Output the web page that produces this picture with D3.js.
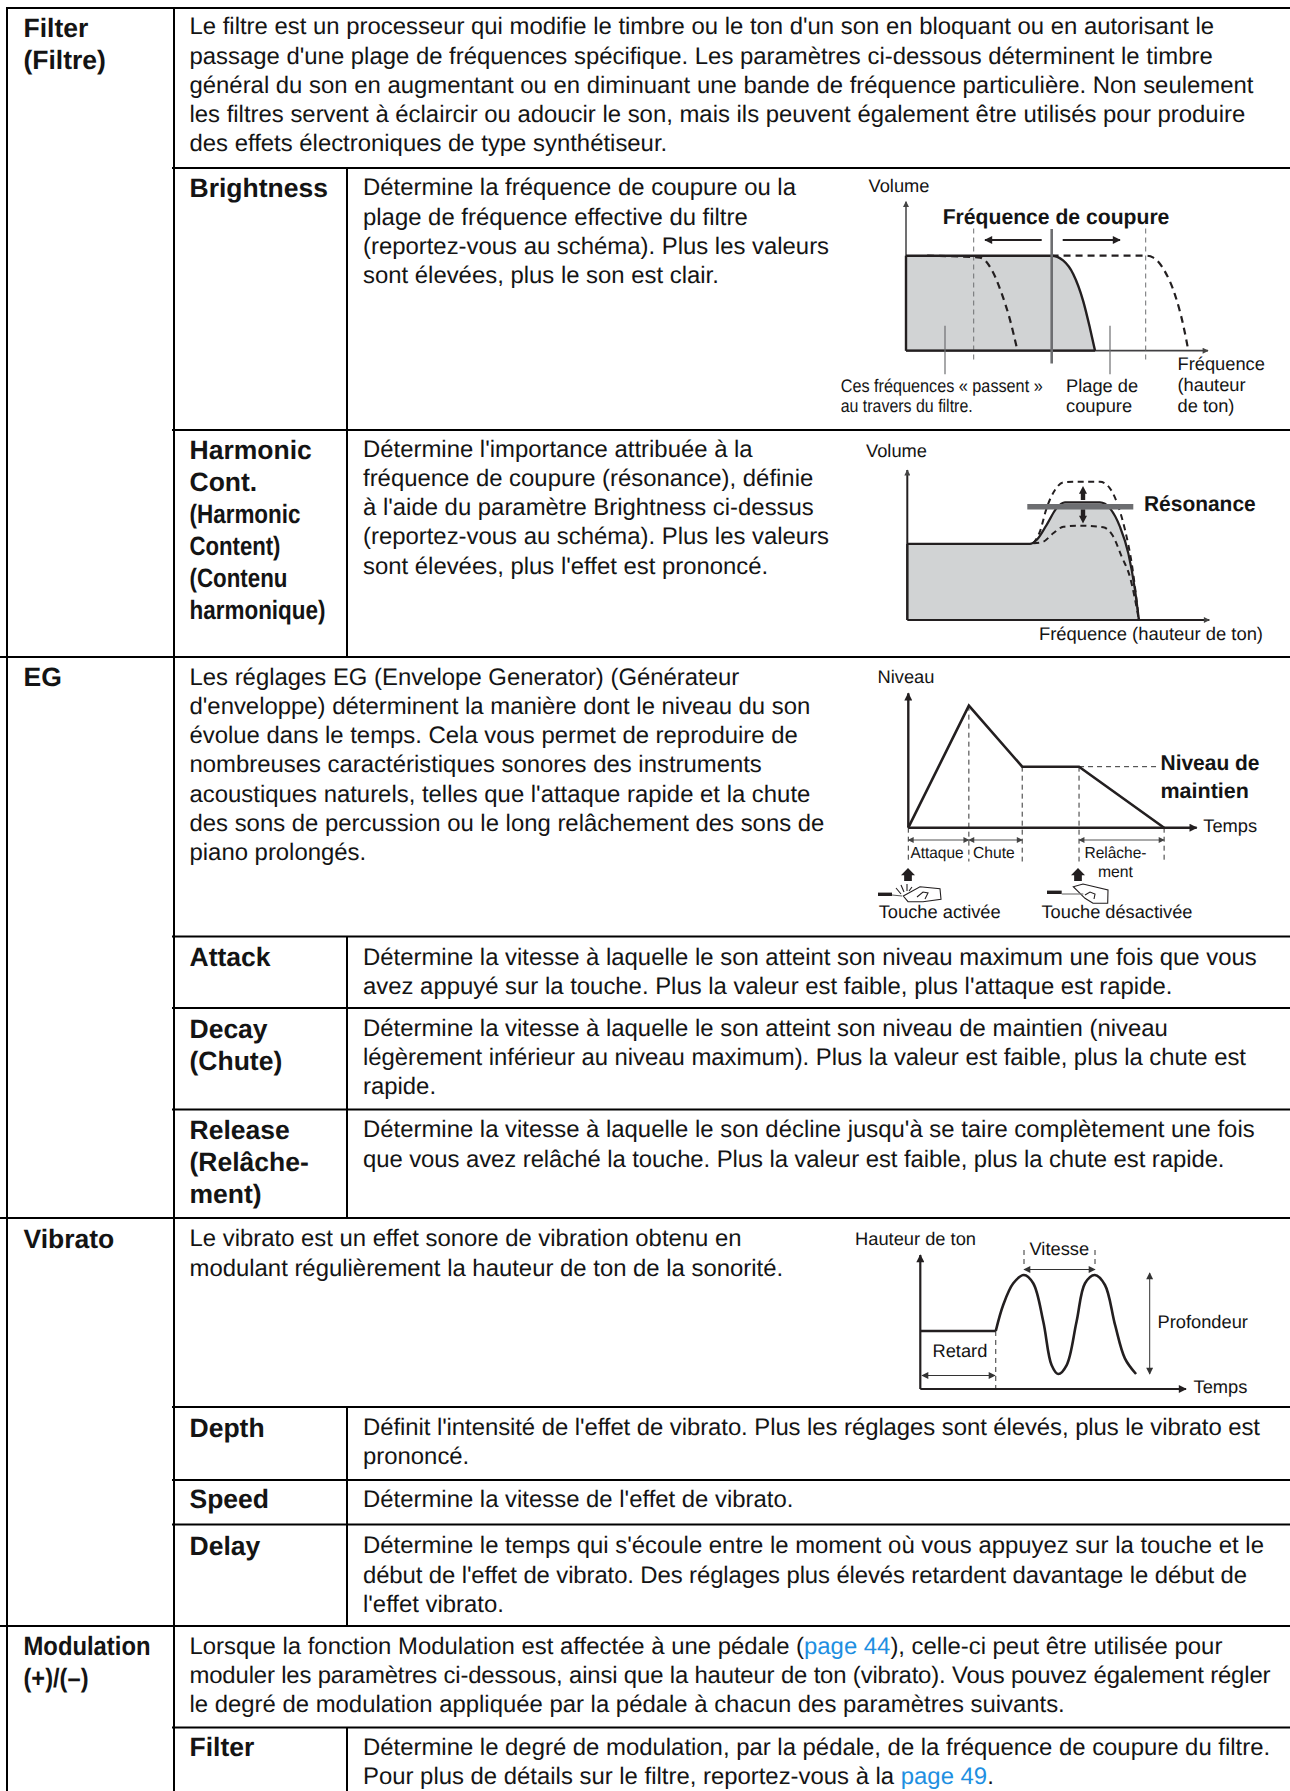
<!DOCTYPE html>
<html lang="fr"><head><meta charset="utf-8">
<style>html,body{margin:0;padding:0;background:#fff}svg{display:block}text{font-family:"Liberation Sans",Arial,sans-serif;fill:#141414;text-rendering:geometricPrecision}</style>
<script src="https://cdn.jsdelivr.net/npm/d3@7/dist/d3.min.js"></script></head><body><div id="c"></div>
<script>
// ---------- table content ----------
const filterIntro=["Le filtre est un processeur qui modifie le timbre ou le ton d'un son en bloquant ou en autorisant le","passage d'une plage de fréquences spécifique. Les paramètres ci-dessous déterminent le timbre","général du son en augmentant ou en diminuant une bande de fréquence particulière. Non seulement","les filtres servent à éclaircir ou adoucir le son, mais ils peuvent également être utilisés pour produire","des effets électroniques de type synthétiseur."];
const brightnessText=["Détermine la fréquence de coupure ou la","plage de fréquence effective du filtre","(reportez-vous au schéma). Plus les valeurs","sont élevées, plus le son est clair."];
const harmonicText=["Détermine l'importance attribuée à la","fréquence de coupure (résonance), définie","à l'aide du paramètre Brightness ci-dessus","(reportez-vous au schéma). Plus les valeurs","sont élevées, plus l'effet est prononcé."];
const egIntro=["Les réglages EG (Envelope Generator) (Générateur","d'enveloppe) déterminent la manière dont le niveau du son","évolue dans le temps. Cela vous permet de reproduire de","nombreuses caractéristiques sonores des instruments","acoustiques naturels, telles que l'attaque rapide et la chute","des sons de percussion ou le long relâchement des sons de","piano prolongés."];
const attackText=["Détermine la vitesse à laquelle le son atteint son niveau maximum une fois que vous","avez appuyé sur la touche. Plus la valeur est faible, plus l'attaque est rapide."];
const decayText=["Détermine la vitesse à laquelle le son atteint son niveau de maintien (niveau","légèrement inférieur au niveau maximum). Plus la valeur est faible, plus la chute est","rapide."];
const releaseText=["Détermine la vitesse à laquelle le son décline jusqu'à se taire complètement une fois","que vous avez relâché la touche. Plus la valeur est faible, plus la chute est rapide."];
const vibratoIntro=["Le vibrato est un effet sonore de vibration obtenu en","modulant régulièrement la hauteur de ton de la sonorité."];
const depthText=["Définit l'intensité de l'effet de vibrato. Plus les réglages sont élevés, plus le vibrato est","prononcé."];
const speedText=["Détermine la vitesse de l'effet de vibrato."];
const delayText=["Détermine le temps qui s'écoule entre le moment où vous appuyez sur la touche et le","début de l'effet de vibrato. Des réglages plus élevés retardent davantage le début de","l'effet vibrato."];
const modulationIntro=[["Lorsque la fonction Modulation est affectée à une pédale (",["page 44"],"), celle-ci peut être utilisée pour"],"moduler les paramètres ci-dessous, ainsi que la hauteur de ton (vibrato). Vous pouvez également régler","le degré de modulation appliquée par la pédale à chacun des paramètres suivants."];
const modFilterText=["Détermine le degré de modulation, par la pédale, de la fréquence de coupure du filtre.",["Pour plus de détails sur le filtre, reportez-vous à la ",["page 49"],"."]];
// lines set tighter than the natural width in the original
const fittedLines=new Map([[decayText[1],883],[releaseText[1],861.5],[depthText[0],897],[delayText[1],884],[modulationIntro[1],1081]]);

// ---------- diagram values (percent of each diagram's axes) ----------
const brightSolid=[[0,100],[48.2,100],[52,95],[55.4,80.5],[58.7,52],[60.9,24],[62.6,0]];
const brightLeft=[[7,100],[24.5,98],[28.4,85],[31.7,60],[34.4,33],[36.9,0]];
const brightRight=[[48.2,100],[79.7,100],[81.9,98],[85.8,83],[89.1,58.6],[91.8,27],[93.5,0]];
const resoSolid=[[0,50.7],[40.6,50.7],[42.8,53.3],[46.1,63.3],[49.4,74.4],[52.2,78.4],[63.8,78.4],[67.1,74.4],[70.4,62.2],[73.2,44.4],[75.4,20],[76.7,0]];
const resoUpper=[[41.7,51.1],[43.9,58.9],[46.1,74.4],[48.9,86.7],[51.7,91.8],[56.1,92.2],[63.8,92.2],[67.1,87.8],[69.9,75.6],[72.1,60],[74.3,37.8],[76.7,0]];
const resoLower=[[41.7,51.1],[45,52.2],[48.3,57.8],[51.7,62.2],[56.1,62.9],[64.9,61.8],[68.2,55.6],[71,42.2],[73.7,28.9],[76.7,0]];
const envelope=[[0,0],[21,90.8],[39.5,45.4],[59.2,45.4],[88.7,0]];
const vibDelay=[[0,43.3],[28.4,43.3]];
const vibWave=[[28.4,43.3],[31.2,62.7],[35,78.9],[39,85.1],[42.5,78.9],[46.3,50.2],[49.4,17.9],[51.9,11.2],[55.1,17.9],[58.8,50.2],[62,78.9],[65.7,85.1],[69.5,77.6],[73.3,47.8],[77,22.9],[81.2,11.2]];

const W=1290,H=1791;
const svg=d3.select("#c").append("svg").attr("width",W).attr("height",H);
const defs=svg.append("defs");
function mk(id,w,h,c){defs.append("marker").attr("id",id).attr("viewBox","0 0 10 10").attr("refX",9).attr("refY",5).attr("markerUnits","userSpaceOnUse").attr("markerWidth",w).attr("markerHeight",h).attr("orient","auto-start-reverse").append("path").attr("d","M0,0L10,5L0,10Z").attr("fill",c);}
mk("a",11,8,"#231f20");mk("s",9,7,"#333");mk("t",7,6,"#444");

// ---------- table grid ----------
const mainRules=[8,657,1218,1626],subRules=[168,430,936.5,1008,1109.5,1407,1480,1524.5,1727.5];
const vLines=[[7,8,H],[174,8,H]],subV=[[347,168,657],[347,936.5,1218],[347,1407,1626],[347,1727.5,H]];
const grid=svg.append("g").attr("stroke","#000").attr("stroke-width",2);
mainRules.forEach(y=>grid.append("line").attr("x1",y===8?6:0).attr("x2",W).attr("y1",y).attr("y2",y));
subRules.forEach(y=>grid.append("line").attr("x1",172).attr("x2",W).attr("y1",y).attr("y2",y));
[...vLines,...subV].forEach(v=>grid.append("line").attr("x1",v[0]).attr("x2",v[0]).attr("y1",v[1]).attr("y2",v[2]));

// ---------- text ----------
const X1=23.5,X2=189.5,X3=363,BODY=23.9,HEAD=26.5,LAB=18.3;
function body(lines,x,y0){const step=29.2,y=y0+0.8;
 lines.forEach((l,i)=>{const t=svg.append("text").attr("x",x).attr("y",y+i*step).attr("font-size",BODY);
  if(fittedLines.has(l))t.attr("textLength",fittedLines.get(l)).attr("lengthAdjust","spacing");
  if(typeof l==="string")t.text(l);else l.forEach(p=>{if(typeof p==="string")t.append("tspan").text(p);else t.append("tspan").style("fill","#1e8fe1").text(p[0]);});});}
function head(l,x,y,w){const t=svg.append("text").attr("x",x).attr("y",y+0.6).attr("font-size",HEAD).attr("font-weight","bold").text(l);if(w)t.attr("textLength",w).attr("lengthAdjust","spacingAndGlyphs");return t;}
function lab(l,x,y,size,w,bold){const t=svg.append("text").attr("x",x).attr("y",y).attr("font-size",size||LAB).text(l);if(bold)t.attr("font-weight","bold");if(w)t.attr("textLength",w).attr("lengthAdjust","spacingAndGlyphs");return t;}

head("Filter",X1,36.5);head("(Filtre)",X1,68);
body(filterIntro,X2,33.5);
head("Brightness",X2,196);body(brightnessText,X3,194.5);
head("Harmonic",X2,458);head("Cont.",X2,490);
head("(Harmonic",X2,522,111);head("Content)",X2,554,91);head("(Contenu",X2,586,98);head("harmonique)",X2,618,136);
body(harmonicText,X3,456);
head("EG",X1,685);body(egIntro,X2,684);
head("Attack",X2,965);body(attackText,X3,964);
head("Decay",X2,1037);head("(Chute)",X2,1069);body(decayText,X3,1035);
head("Release",X2,1138);head("(Relâche-",X2,1170);head("ment)",X2,1202);body(releaseText,X3,1136.5);
head("Vibrato",X1,1247);body(vibratoIntro,X2,1245.5);
head("Depth",X2,1436);body(depthText,X3,1434);
head("Speed",X2,1507);body(speedText,X3,1506);
head("Delay",X2,1554);body(delayText,X3,1552.5);
head("Modulation",X1,1654,127);head("(+)/(–)",X1,1686,65);body(modulationIntro,X2,1653);
head("Filter",X2,1755);body(modFilterText,X3,1754);

// ---------- helpers for diagrams ----------
function scales(x0,x1,y0,y1){return{x:d3.scaleLinear().domain([0,100]).range([x0,x1]),y:d3.scaleLinear().domain([0,100]).range([y0,y1])};}
function ln(s,curve){return d3.line().x(d=>s.x(d[0])).y(d=>s.y(d[1])).curve(curve||d3.curveLinear);}
function seg(a,b,o={}){const l=svg.append("line").attr("x1",a[0]).attr("y1",a[1]).attr("x2",b[0]).attr("y2",b[1]).attr("stroke",o.c||"#333").attr("stroke-width",o.w||1);if(o.d)l.attr("stroke-dasharray",o.d);if(o.ms)l.attr("marker-start",o.ms);if(o.me)l.attr("marker-end",o.me);return l;}
function bigArrow(x,y,dir,hw,len){const h=len*.55;svg.append("path").attr("d",`M${x},${y}l${hw},${dir*h}h${-hw*.45}v${dir*(len-h)}h${-hw*1.1}v${-dir*(len-h)}h${-hw*.45}Z`).attr("fill","#231f20");}

// ---------- Brightness diagram ----------
{const s=scales(906,1208,350.7,255.7),sy=d3.scaleLinear().domain([0,157]).range([350.7,201.7]);
 const area=d3.area().x(d=>s.x(d[0])).y0(s.y(0)).y1(d=>s.y(d[1])).curve(d3.curveMonotoneX);
 svg.append("path").attr("d",area(brightSolid)).attr("fill","#d1d3d4");
 seg([s.x(0),s.y(0)],[s.x(0),sy(157)],{c:"#414042",w:1.5,me:"url(#t)"});
 seg([s.x(0),s.y(0)],[s.x(100),s.y(0)],{c:"#414042",w:1.8,me:"url(#t)"});
 [973.7,1145.7].forEach(x=>seg([x,228.5],[x,362],{c:"#6d6e71",w:1,d:"5,4"}));
 svg.append("path").attr("d",ln(s,d3.curveMonotoneX)(brightLeft)).attr("fill","none").attr("stroke","#231f20").attr("stroke-width",2.2).attr("stroke-dasharray","7,5");
 svg.append("path").attr("d",ln(s,d3.curveMonotoneX)(brightRight)).attr("fill","none").attr("stroke","#231f20").attr("stroke-width",2.2).attr("stroke-dasharray","7,5");
 svg.append("path").attr("d",ln(s,d3.curveMonotoneX)(brightSolid)).attr("fill","none").attr("stroke","#231f20").attr("stroke-width",2.4);
 seg([s.x(0),s.y(0)],[s.x(0),s.y(100)],{c:"#231f20",w:2.4});
 seg([s.x(0),s.y(0)],[s.x(62.6),s.y(0)],{c:"#231f20",w:2.2});
 seg([1051.7,229],[1051.7,363.5],{c:"#6d6e71",w:2.6});
 seg([1041.7,240],[985,240],{c:"#231f20",w:2,me:"url(#a)"});
 seg([1062.7,240],[1120,240],{c:"#231f20",w:2,me:"url(#a)"});
 seg([945,325.7],[945,374.3],{c:"#6d6e71",w:1.2});seg([1110,325.7],[1110,374.3],{c:"#6d6e71",w:1.2});
 lab("Volume",868.5,191.5);
 lab("Fréquence de coupure",942.7,224,21.5,226.7,true);
 lab("Ces fréquences « passent »",840.7,391.7,LAB,202);
 lab("au travers du filtre.",840.7,411.5,LAB,132);
 lab("Plage de",1066,391.7);lab("coupure",1066,412);
 lab("Fréquence",1177.5,369.5);lab("(hauteur",1177.5,390.5);lab("de ton)",1177.5,411.5);
}
// ---------- Harmonic (résonance) diagram ----------
{const s=scales(907.3,1209.3,620,470);
 const area=d3.area().x(d=>s.x(d[0])).y0(s.y(0)).y1(d=>s.y(d[1])).curve(d3.curveMonotoneX);
 svg.append("path").attr("d",area(resoSolid)).attr("fill","#d1d3d4");
 seg([s.x(0),s.y(0)],[s.x(0),s.y(100)],{c:"#231f20",w:2,me:"url(#t)"});
 seg([s.x(0),s.y(0)],[s.x(100),s.y(0)],{c:"#231f20",w:2,me:"url(#t)"});
 [resoUpper,resoLower].forEach(d=>svg.append("path").attr("d",ln(s,d3.curveMonotoneX)(d)).attr("fill","none").attr("stroke","#231f20").attr("stroke-width",2).attr("stroke-dasharray","6,4.5"));
 svg.append("path").attr("d",ln(s,d3.curveMonotoneX)(resoSolid)).attr("fill","none").attr("stroke","#231f20").attr("stroke-width",2.2);
 seg([s.x(0),s.y(0)],[s.x(0),s.y(50.7)],{c:"#231f20",w:2.2});
 seg([1027.3,506.7],[1133.3,506.7],{c:"#6d6e71",w:5.5});
 bigArrow(1083,486,1,4,14);bigArrow(1083,523.5,-1,4,14);
 lab("Volume",866,456.5);
 lab("Résonance",1144,510.5,21.5,111.7,true);
 lab("Fréquence (hauteur de ton)",1039,640.3,LAB,224);
}
// ---------- EG diagram ----------
{const s=scales(908.3,1196.7,827.7,693.3);
 envelope.slice(1,5).forEach(d=>seg([s.x(d[0]),s.y(d[1])],[s.x(d[0]),861.5],{c:"#333",w:1,d:"5,4"}));
 seg([908.3,827.7],[908.3,861.5],{c:"#333",w:1,d:"5,4"});
 seg([s.x(59.2),s.y(45.4)],[1159,s.y(45.4)],{c:"#333",w:1,d:"5,4"});
 seg([s.x(0),s.y(0)],[s.x(0),s.y(100)],{c:"#231f20",w:2.4,me:"url(#a)"});
 seg([s.x(0),s.y(0)],[s.x(100),s.y(0)],{c:"#231f20",w:2.4,me:"url(#a)"});
 svg.append("path").attr("d",ln(s)(envelope)).attr("fill","none").attr("stroke","#231f20").attr("stroke-width",2.6);
 [[0,21],[21,39.5],[59.2,88.7]].forEach(p=>seg([s.x(p[0]),840],[s.x(p[1]),840],{c:"#555",w:1,ms:"url(#t)",me:"url(#t)"}));
 lab("Niveau",877.5,682.5);
 lab("Niveau de",1160.5,770,21.5,99,true);lab("maintien",1160.5,797.5,21.5,null,true);
 lab("Temps",1203.3,831.7);
 lab("Attaque",910.5,857.5,16,53);lab("Chute",973,857.5,16,41.7);lab("Relâche-",1084.5,857.5,16,62);lab("ment",1098,876.7,16,35);
 bigArrow(908,868,1,7,13);bigArrow(1078,868,1,7,13);
 lab("Touche activée",878.7,918,LAB,122);lab("Touche désactivée",1041.5,918,LAB,151);
 const h=svg.append("g").attr("fill","none").attr("stroke","#231f20").attr("stroke-width",1.1);
 seg([878,894.3],[892,894.3],{c:"#231f20",w:3.4});seg([892,895],[902,896],{c:"#555",w:1});
 h.append("path").attr("d","M903.3,896L920,886.7L940,888.7L941,899.3L923,901.7L908,901.7Z M917,897l6,-5l5,1l-3,6 M896,888l5,6 M901,885l3,7 M907,884l0,7 M912,887l-3,4");
 seg([1047,892.3],[1061.7,892.3],{c:"#231f20",w:3.4});seg([1061.7,894],[1083.3,894],{c:"#777",w:1.2});
 h.append("path").attr("d","M1073.3,886.7L1083,884L1108,890L1107.7,903.3L1093,903.3L1085,898.3Z M1085,895l5,-3l5,2l-1,5");
}
// ---------- Vibrato diagram ----------
{const s=scales(920.3,1186,1389,1255);
 seg([s.x(28.4),s.y(43.3)],[s.x(28.4),s.y(0)],{c:"#333",w:1,d:"5,4"});
 [1024,1095].forEach(x=>seg([x,1250],[x,1268],{c:"#333",w:1,d:"5,4"}));
 seg([s.x(0),s.y(0)],[s.x(0),s.y(100)],{c:"#231f20",w:2.2,me:"url(#a)"});
 seg([s.x(0),s.y(0)],[s.x(100),s.y(0)],{c:"#231f20",w:2.2,me:"url(#a)"});
 svg.append("path").attr("d",ln(s)(vibDelay)).attr("fill","none").attr("stroke","#231f20").attr("stroke-width",2.4);
 svg.append("path").attr("d",ln(s,d3.curveCatmullRom.alpha(.5))(vibWave)).attr("fill","none").attr("stroke","#231f20").attr("stroke-width",2.6);
 seg([1024,1269.5],[1095,1269.5],{c:"#333",w:1,ms:"url(#s)",me:"url(#s)"});
 seg([1149.7,1273],[1149.7,1374],{c:"#333",w:1,ms:"url(#s)",me:"url(#s)"});
 seg([922,1375.5],[995,1375.5],{c:"#333",w:1,ms:"url(#s)",me:"url(#s)"});
 lab("Hauteur de ton",855,1245,LAB,121);lab("Vitesse",1029.5,1255);lab("Profondeur",1157.5,1327.5);lab("Retard",932.5,1356.7);lab("Temps",1193.5,1393.3);
}
</script></body></html>
